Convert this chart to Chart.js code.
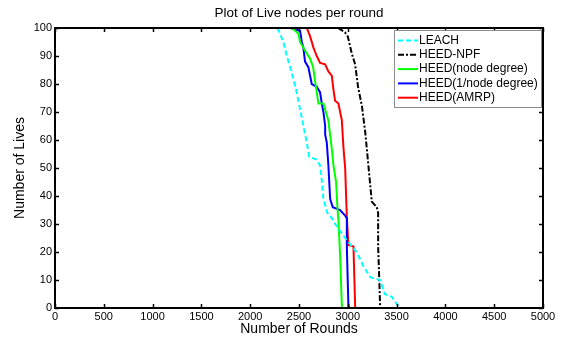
<!DOCTYPE html>
<html><head><meta charset="utf-8">
<script src="https://cdn.jsdelivr.net/npm/chart.js@4"></script>
<style>html,body{margin:0;padding:0;background:#fff}</style>
</head><body>
<canvas id="c" width="561" height="338"></canvas>
<script>
const xTickValues = [0,500,1000,1500,2000,2500,3000,3500,4000,4500,5000];
const yTickValues = [0,10,20,30,40,50,60,70,80,90,100];
const seriesNames = ['LEACH','HEED-NPF','HEED(node degree)','HEED(1/node degree)','HEED(AMRP)'];

const leachRounds = [2280,2340,2375,2410,2440,2477,2511,2540,2580,2605,2680,2715,2735,2750,2790,2820,2890,2950,3020,3090,3160,3230,3330,3380,3450,3530];
const leachLives  = [100,95,90,86,82,77,71,66,59,54,53,51,45,39,34,33,29,26,23,20,15,11,10,5,4,0];

const npfRounds = [2900,2970,3000,3040,3075,3105,3145,3178,3208,3246,3297,3311,3311,3331,3331];
const npfLives  = [100,98.5,97,91,87,79,72,63,52,38,36,34,22,1,0];

const ndRounds = [2426,2494,2511,2562,2614,2645,2665,2682,2699,2750,2801,2836,2853,2880,2894,2904,2921,2939,2940];
const ndLives  = [100,98,95,92,89,86,81,77,73,73,67,57,51,45,36,31,19,1,0];

const invRounds = [2409,2511,2529,2545,2562,2596,2631,2682,2716,2734,2750,2768,2768,2785,2801,2819,2846,2921,2973,2990,2990,3006,3010];
const invLives  = [100,99,95,93,88,86,80,79,77,73,70,65,62,59,51,39,36,35,33,32,22,1,0];

const amrpRounds = [2580,2614,2648,2682,2716,2768,2801,2836,2853,2870,2904,2939,2955,2973,2990,3006,3058,3075,3075];
const amrpLives  = [100,97,93,90,87.5,87,84.5,83,78,74,73,67,57.5,50,32.5,22.5,22,1,0];

const seriesColors = ['#00ffff','#000000','#00ff00','#0000ff','#ff0000'];
const seriesDashes = [[5,3],[6,2,2,2],[],[],[]];

function pts(xs, ys){ return xs.map((x,i)=>({x:x,y:ys[i]})); }
const allRounds = [leachRounds,npfRounds,ndRounds,invRounds,amrpRounds];
const allLives = [leachLives,npfLives,ndLives,invLives,amrpLives];

const FONT = 'Liberation Sans, Arial, sans-serif';

const framePlugin = {
  id:'frame',
  afterDatasetsDraw(chart){
    const ctx = chart.ctx, a = chart.chartArea, xs = chart.scales.x, ys = chart.scales.y;
    ctx.save();
    ctx.strokeStyle = '#000';
    ctx.lineWidth = 1.5;
    const tl = 4;
    ctx.beginPath();
    xTickValues.forEach(v=>{
      const p = Math.round(xs.getPixelForValue(v))+0.5;
      ctx.moveTo(p,a.bottom); ctx.lineTo(p,a.bottom-tl);
      ctx.moveTo(p,a.top); ctx.lineTo(p,a.top+tl);
    });
    yTickValues.forEach(v=>{
      const p = Math.round(ys.getPixelForValue(v))+0.5;
      ctx.moveTo(a.left,p); ctx.lineTo(a.left+tl,p);
      ctx.moveTo(a.right,p); ctx.lineTo(a.right-tl,p);
    });
    ctx.stroke();
    ctx.lineWidth = 2;
    ctx.strokeRect(a.left, a.top, a.right-a.left, a.bottom-a.top);
    // legend
    const lx = 394, ly = 30, lw = 147, lh = 77;
    ctx.fillStyle = '#fff';
    ctx.fillRect(lx, ly, lw, lh);
    ctx.lineWidth = 1;
    ctx.strokeStyle = '#8c8c8c';
    ctx.strokeRect(lx+0.5, ly+0.5, lw, lh);
    ctx.font = '12px ' + FONT;
    ctx.textBaseline = 'middle';
    chart.data.datasets.forEach((ds,i)=>{
      const y = ly + 10.5 + i*14.3;
      ctx.strokeStyle = ds.borderColor;
      ctx.lineWidth = 2;
      ctx.setLineDash(ds.borderDash || []);
      ctx.beginPath(); ctx.moveTo(lx+4,y); ctx.lineTo(lx+24,y); ctx.stroke();
      ctx.setLineDash([]);
      ctx.fillStyle = '#000';
      ctx.fillText(ds.label, lx+25, y);
    });
    ctx.restore();
  }
};

new Chart(document.getElementById('c'), {
  type:'scatter',
  data:{ datasets: seriesNames.map((n,i)=>({
    label:n, data:pts(allRounds[i], allLives[i]), showLine:true,
    borderColor:seriesColors[i], backgroundColor:seriesColors[i],
    borderWidth:2, borderDash:seriesDashes[i], pointRadius:0, tension:0, fill:false
  }))},
  options:{
    responsive:false, animation:false, devicePixelRatio:1,
    layout:{padding:{left:0,right:18,top:0,bottom:0}},
    plugins:{
      legend:{display:false}, tooltip:{enabled:false},
      title:{display:true, fullSize:false, text:'Plot of Live nodes per round', color:'#000',
        font:{family:FONT, size:13.5, weight:'normal'}, padding:{top:5,bottom:6.8}}
    },
    scales:{
      x:{type:'linear', min:0, max:5000,
        afterBuildTicks(s){ s.ticks = xTickValues.map(v=>({value:v})); },
        afterFit(s){ s.height = 30; },
        grid:{display:false, drawTicks:false},
        border:{display:false},
        ticks:{color:'#000', font:{family:FONT,size:11}, padding:2, maxRotation:0, autoSkip:false, callback:v=>String(v)},
        title:{display:true, text:'Number of Rounds', color:'#000', font:{family:FONT,size:14}, padding:{top:0,bottom:0}}
      },
      y:{type:'linear', min:0, max:100,
        afterBuildTicks(s){ s.ticks = yTickValues.map(v=>({value:v})); },
        afterFit(s){ s.width = 55; },
        grid:{display:false, drawTicks:false},
        border:{display:false},
        ticks:{color:'#000', font:{family:FONT,size:11}, padding:3, autoSkip:false, callback:v=>String(v)},
        title:{display:true, text:'Number of Lives', color:'#000', font:{family:FONT,size:14}, padding:{top:11.6,bottom:0}}
      }
    }
  },
  plugins:[framePlugin]
});
</script>
</body></html>
